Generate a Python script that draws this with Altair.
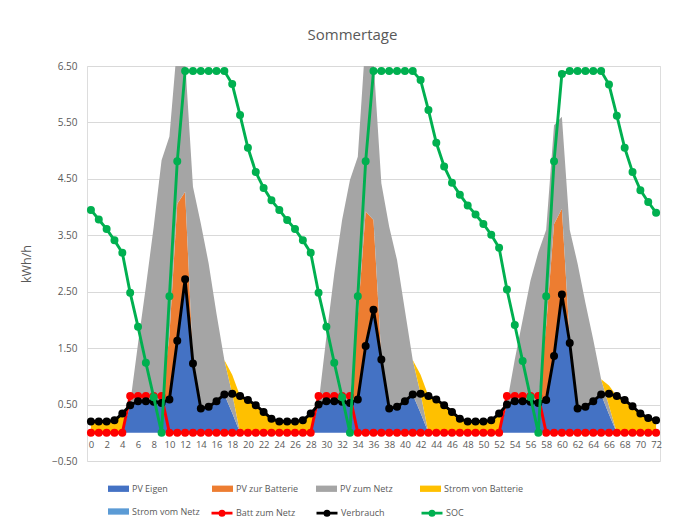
import altair as alt
import pandas as pd

hours = list(range(73))

area_names = ["PV Eigen", "PV zur Batterie", "PV zum Netz", "Strom von Batterie", "Strom vom Netz"]
area_colors = ["#4472C4", "#ED7D31", "#A5A5A5", "#FFC000", "#5B9BD5"]
line_names = ["Batt zum Netz", "Verbrauch", "SOC"]
line_colors = ["#FF0000", "#000000", "#00B050"]

pv_eigen = [0, 0, 0, 0, 0, 0.49, 0.56, 0.56, 0.55, 0.53,
            0.59, 1.63, 2.72, 1.23, 0.43, 0.46, 0.56, 0.68, 0.35, 0,
            0, 0, 0, 0, 0, 0, 0, 0, 0, 0.50,
            0.56, 0.56, 0.55, 0.53, 0.59, 1.54, 2.18, 1.30, 0.43, 0.46,
            0.56, 0.68, 0.35, 0, 0, 0, 0, 0, 0, 0,
            0, 0, 0, 0.50, 0.56, 0.56, 0.55, 0.53, 0.58, 1.36,
            2.45, 1.59, 0.43, 0.46, 0.56, 0.68, 0.33, 0, 0, 0,
            0, 0, 0]

pv_zur_batterie = [0, 0, 0, 0, 0, 0, 0, 0, 0, 0,
                   1.14, 2.43, 1.55, 0.05, 0, 0, 0, 0, 0, 0,
                   0, 0, 0, 0, 0, 0, 0, 0, 0, 0,
                   0, 0, 0, 0, 1.47, 2.38, 1.59, 0.05, 0, 0,
                   0, 0, 0, 0, 0, 0, 0, 0, 0, 0,
                   0, 0, 0, 0, 0, 0, 0, 0, 1.32, 2.34,
                   1.52, 0.05, 0, 0, 0, 0, 0, 0, 0, 0,
                   0, 0, 0]

pv_zum_netz = [0, 0, 0, 0, 0, 0.03, 1.02, 2.03, 3.10, 4.30,
               3.52, 2.84, 2.33, 3.08, 3.28, 2.54, 1.55, 0.61, 0.34, 0,
               0, 0, 0, 0, 0, 0, 0, 0, 0, 0.02,
               1.14, 2.26, 3.22, 3.95, 2.83, 3.08, 2.83, 3.07, 3.22, 2.60,
               1.61, 0.61, 0.34, 0, 0, 0, 0, 0, 0, 0,
               0, 0, 0, 0.02, 0.74, 1.44, 2.15, 2.67, 1.70, 1.75,
               1.63, 1.96, 2.57, 1.84, 1.09, 0.27, 0.15, 0, 0, 0,
               0, 0, 0]

strom_von_batterie = [0.20, 0.20, 0.20, 0.22, 0.34, 0, 0, 0, 0, 0,
                      0, 0, 0, 0, 0, 0, 0, 0, 0.34, 0.65,
                      0.58, 0.49, 0.37, 0.25, 0.20, 0.20, 0.20, 0.22, 0.34, 0,
                      0, 0, 0, 0, 0, 0, 0, 0, 0, 0,
                      0, 0, 0.34, 0.65, 0.59, 0.49, 0.37, 0.25, 0.20, 0.20,
                      0.20, 0.22, 0.34, 0, 0, 0, 0, 0, 0, 0,
                      0, 0, 0, 0, 0, 0, 0.36, 0.65, 0.58, 0.47,
                      0.34, 0.26, 0.22]

strom_vom_netz = [0, 0, 0, 0, 0, 0, 0, 0, 0, 0,
                  0, 0, 0, 0, 0, 0, 0, 0, 0, 0,
                  0, 0, 0, 0, 0, 0, 0, 0, 0, 0,
                  0, 0, 0, 0, 0, 0, 0, 0, 0, 0,
                  0, 0, 0, 0, 0, 0, 0, 0, 0, 0,
                  0, 0, 0, 0, 0, 0, 0, 0, 0, 0,
                  0, 0, 0, 0, 0, 0, 0, 0, 0, 0,
                  0, 0, 0]

batt_zum_netz = [0, 0, 0, 0, 0, 0.65, 0.65, 0.65, 0.65, 0.65,
                 0, 0, 0, 0, 0, 0, 0, 0, 0, 0,
                 0, 0, 0, 0, 0, 0, 0, 0, 0, 0.65,
                 0.65, 0.65, 0.65, 0.65, 0, 0, 0, 0, 0, 0,
                 0, 0, 0, 0, 0, 0, 0, 0, 0, 0,
                 0, 0, 0, 0.65, 0.65, 0.65, 0.65, 0.65, 0, 0,
                 0, 0, 0, 0, 0, 0, 0, 0, 0, 0,
                 0, 0, 0]

verbrauch = [0.20, 0.20, 0.20, 0.22, 0.34, 0.49, 0.56, 0.56, 0.55, 0.53,
             0.59, 1.63, 2.72, 1.23, 0.43, 0.46, 0.56, 0.68, 0.69, 0.65,
             0.58, 0.49, 0.37, 0.25, 0.20, 0.20, 0.20, 0.22, 0.34, 0.50,
             0.56, 0.56, 0.55, 0.53, 0.59, 1.54, 2.18, 1.30, 0.43, 0.46,
             0.56, 0.68, 0.69, 0.65, 0.59, 0.49, 0.37, 0.25, 0.20, 0.20,
             0.20, 0.22, 0.34, 0.50, 0.56, 0.56, 0.55, 0.53, 0.58, 1.36,
             2.45, 1.59, 0.43, 0.46, 0.56, 0.68, 0.69, 0.65, 0.58, 0.47,
             0.34, 0.26, 0.22]

soc = [3.95, 3.78, 3.61, 3.41, 3.19, 2.48, 1.88, 1.24, 0.63, 0.00,
       2.42, 4.81, 6.41, 6.41, 6.41, 6.41, 6.41, 6.41, 6.18, 5.63,
       5.05, 4.62, 4.34, 4.12, 3.95, 3.77, 3.61, 3.41, 3.19, 2.48,
       1.88, 1.24, 0.63, 0.00, 2.42, 4.81, 6.41, 6.41, 6.41, 6.41,
       6.41, 6.41, 6.25, 5.72, 5.14, 4.72, 4.43, 4.22, 4.03, 3.87,
       3.70, 3.51, 3.28, 2.54, 1.91, 1.27, 0.63, 0.00, 2.42, 4.81,
       6.36, 6.41, 6.41, 6.41, 6.41, 6.41, 6.17, 5.62, 5.05, 4.62,
       4.30, 4.09, 3.90]

y_ticks = [-0.5, 0.5, 1.5, 2.5, 3.5, 4.5, 5.5, 6.5]
x_ticks = list(range(0, 73, 2))

FONT = "Open Sans"
GREY_TEXT = "#595959"

area_series = [pv_eigen, pv_zur_batterie, pv_zum_netz, strom_von_batterie, strom_vom_netz]
area_rows = []
for i, vals in enumerate(area_series):
    for h, v in zip(hours, vals):
        area_rows.append({"hour": h, "series": area_names[i], "idx": i, "value": v})
area_df = pd.DataFrame(area_rows)

line_series = [batt_zum_netz, verbrauch, soc]
line_rows = []
for i, vals in enumerate(line_series):
    for h, v in zip(hours, vals):
        line_rows.append({"hour": h, "series": line_names[i], "value": v})
line_df = pd.DataFrame(line_rows)

x_scale = alt.Scale(domain=[-0.5, 72.5], nice=False, zero=False)
y_scale = alt.Scale(domain=[-0.5, 6.5], nice=False, zero=False)

rect_path = "M-1,-0.3L1,-0.3L1,0.3L-1,0.3Z"
line_path = ("M-1,0L1,0 "
             "M-0.2,0A0.2,0.2 0 1,1 0.2,0A0.2,0.2 0 1,1 -0.2,0Z")

fill_legend = alt.Legend(
    title=None, orient="none", legendX=21, legendY=412, columns=4,
    direction="horizontal", gridAlign="all", symbolType=rect_path, symbolSize=441,
    symbolStrokeWidth=0, symbolOpacity=1,
    labelFont=FONT, labelFontSize=9, labelColor=GREY_TEXT,
    labelOffset=3, columnPadding=1, rowPadding=7, padding=0,
    values=area_names,
)

stroke_legend = alt.Legend(
    title=None, orient="none", legendX=123, legendY=435, columns=3,
    direction="horizontal", gridAlign="all", symbolType=line_path, symbolSize=441,
    symbolStrokeWidth=2.8, symbolOpacity=1,
    labelFont=FONT, labelFontSize=9, labelColor=GREY_TEXT,
    labelOffset=2, columnPadding=14, rowPadding=1, padding=0,
    values=line_names,
)

x_axis = alt.Axis(
    values=x_ticks, format="d", title=None, grid=False, domain=False, ticks=False,
    tickSize=0, labelPadding=7, offset=-28.2, labelFont=FONT, labelFontSize=9.5,
    labelColor=GREY_TEXT, labelAngle=0, labelOverlap=False, labelFlush=False)

y_axis = alt.Axis(
    values=y_ticks, format=".2f", title="kWh/h", grid=True, gridColor="#D9D9D9",
    gridWidth=1, domain=False, ticks=False, tickSize=0, labelPadding=10,
    labelFont=FONT, labelFontSize=10, labelColor=GREY_TEXT,
    titleFont=FONT, titleFontSize=12.5, titleColor=GREY_TEXT, titleFontWeight="normal",
    titlePadding=18)

areas = alt.Chart(area_df).mark_area(clip=True, opacity=1, interpolate="linear").encode(
    x=alt.X("hour:Q", scale=x_scale, axis=x_axis),
    y=alt.Y("value:Q", scale=y_scale, stack="zero", axis=y_axis),
    fill=alt.Fill("series:N", scale=alt.Scale(domain=area_names, range=area_colors),
                  legend=fill_legend),
    order=alt.Order("idx:Q", sort="ascending"),
)

stroke_enc = alt.Stroke("series:N", scale=alt.Scale(domain=line_names, range=line_colors),
                        legend=stroke_legend)


def line_layer(i):
    name = line_names[i]
    return alt.Chart(line_df).transform_filter(
        alt.datum.series == name
    ).mark_line(
        strokeWidth=2.9,
        point=alt.OverlayMarkDef(filled=True, fill=line_colors[i], size=36, opacity=1),
    ).encode(
        x=alt.X("hour:Q", scale=x_scale, axis=x_axis),
        y=alt.Y("value:Q", scale=y_scale, stack=None, axis=y_axis),
        stroke=stroke_enc,
    )


chart = alt.layer(
    areas,
    line_layer(0),
    line_layer(1),
    line_layer(2),
).properties(
    width=573,
    height=395,
    title=alt.TitleParams("Sommertage", font=FONT, fontSize=15, fontWeight="normal",
                          color=GREY_TEXT, anchor="middle", dx=-21, offset=18),
    padding={"left": 79, "top": 58, "right": 21, "bottom": 62},
    autosize=alt.AutoSizeParams(type="none"),
).configure_view(stroke=None).configure(background="white")

chart.save("out.html", embed_options={"renderer": "svg", "actions": False})
